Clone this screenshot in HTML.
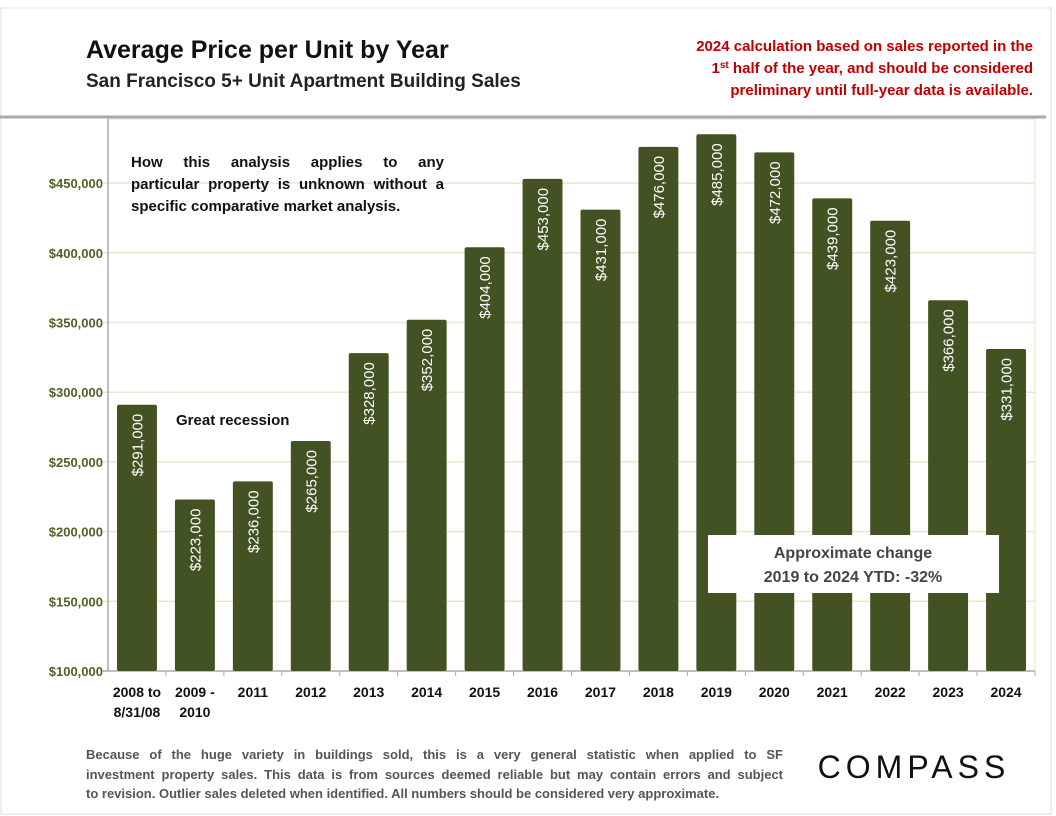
<!DOCTYPE html>
<html><head><meta charset="utf-8"><style>
body{margin:0;background:#fff;width:1056px;height:816px;overflow:hidden;font-family:"Liberation Sans",Arial,sans-serif;position:relative}
svg text{font-family:"Liberation Sans",Arial,sans-serif}
.blk{position:absolute;font-weight:bold}
.jl{text-align:justify;text-align-last:justify;white-space:nowrap}
</style></head><body>
<svg id="c" width="1056" height="816" style="position:absolute;left:0;top:0">
<rect x="1" y="8" width="1050" height="806" fill="#fff" stroke="#ddd"/>
<text x="86" y="58" font-size="25" font-weight="bold" fill="#111">Average Price per Unit by Year</text>
<text x="86" y="87" font-size="19" font-weight="bold" fill="#222">San Francisco 5+ Unit Apartment Building Sales</text>
<g font-size="15" font-weight="bold" fill="#c00000" text-anchor="end">
<text x="1033" y="51">2024 calculation based on sales reported in the</text>
<text x="1033" y="73">1<tspan font-size="10" dy="-5">st</tspan><tspan dy="5"> half of the year, and should be considered</tspan></text>
<text x="1033" y="95">preliminary until full-year data is available.</text>
</g>
<line x1="0" y1="117" x2="1046" y2="117" stroke="#aaa" stroke-width="3"/>
<g id="plot"></g>
<text x="176" y="425" font-size="15" font-weight="bold" fill="#111">Great recession</text>
<rect x="708" y="535" width="291" height="58" fill="#fff"/>
<g font-size="16" font-weight="bold" fill="#444" text-anchor="middle">
<text x="853" y="558">Approximate change</text>
<text x="853" y="582">2019 to 2024 YTD: -32%</text>
</g>
<text x="914" y="778" font-size="32" fill="#111" text-anchor="middle" letter-spacing="5">COMPASS</text>
</svg>
<div class="blk" style="left:131px;top:152px;width:313px;font-size:15px;line-height:22px;color:#111">
<div class="jl">How this analysis applies to any</div>
<div class="jl">particular property is unknown without a</div>
<div>specific comparative market analysis.</div>
</div>
<div class="blk" style="left:86px;top:745px;width:697px;font-size:13px;line-height:19.5px;color:#555">
<div class="jl">Because of the huge variety in buildings sold, this is a very general statistic when applied to SF</div>
<div class="jl">investment property sales. This data is from sources deemed reliable but may contain errors and subject</div>
<div>to revision. Outlier sales deleted when identified. All numbers should be considered very approximate.</div>
</div>
<script>
const categories=["2008 to|8/31/08","2009 -|2010","2011","2012","2013","2014","2015","2016","2017","2018","2019","2020","2021","2022","2023","2024"];
const values=[291000,223000,236000,265000,328000,352000,404000,453000,431000,476000,485000,472000,439000,423000,366000,331000];
const yTicks=[100000,150000,200000,250000,300000,350000,400000,450000];
const NS="http://www.w3.org/2000/svg";
const g=document.getElementById('plot');
const x0=108,x1=1035,y0=671,perUnit=69.7/50000;
const band=(x1-x0)/categories.length;
const yS=v=>y0-(v-100000)*perUnit;
const xS=i=>x0+i*band;
function mk(t,a){const e=document.createElementNS(NS,t);for(const k in a)e.setAttribute(k,a[k]);g.appendChild(e);return e;}
let bg=mk('rect',{x:x0,y:119,width:x1-x0,height:y0-119,fill:'#fff',stroke:'#e2e8c8'});


yTicks.forEach(v=>{
 const y=yS(v);
 if(v>100000){const l=mk('line',{x1:x0-6,y1:y,x2:x1,y2:y,stroke:'#e4e9cf','stroke-width':1.5});
 
 }
 const t=mk('text',{x:103,y:y+5,'text-anchor':'end','font-size':13,'font-weight':'bold',fill:'#4f6228'});
 t.textContent='$'+v.toLocaleString('en-US');
 
 
});
let ax=mk('line',{x1:x0,y1:119,x2:x0,y2:y0,stroke:'#aaa','stroke-width':1.5});


let bx=mk('line',{x1:x0-6,y1:y0,x2:x1,y2:y0,stroke:'#aaa','stroke-width':1.5});


categories.forEach((c,i)=>{
 const xs=xS(i),v=values[i],top=yS(v),cx=xs+band/2;
 const tk=mk('line',{x1:xs+band,y1:y0,x2:xs+band,y2:y0+5,stroke:'#aaa'});
 
 
 const r=mk('rect',{x:xs+9,y:top,width:band-18,height:y0-top,rx:2,fill:'#435223'});
 
 
 const lt=mk('text',{x:0,y:0,transform:`translate(${cx+5.5},${top+9}) rotate(-90)`,'text-anchor':'end','font-size':15,fill:'#fff'});
 lt.textContent='$'+v.toLocaleString('en-US');
 
 
 c.split('|').forEach((p,j)=>{
  const t=mk('text',{x:cx,y:697+j*20,'text-anchor':'middle','font-size':14,'font-weight':'bold',fill:'#111'});
  t.textContent=p;
  
  
 });
});
</script>
</body></html>
